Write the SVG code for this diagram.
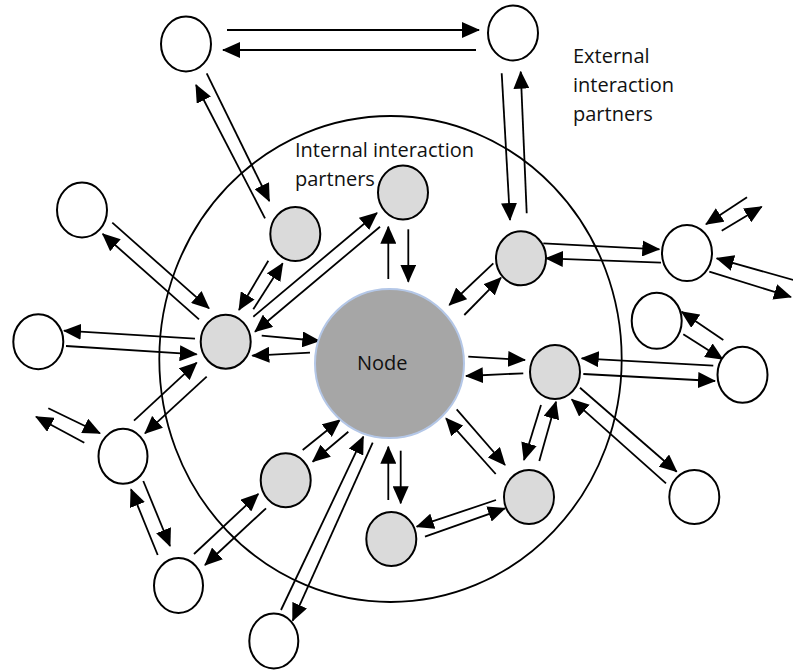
<svg xmlns="http://www.w3.org/2000/svg" width="793" height="670" viewBox="0 0 793 670">
  <style>
    .ring { fill: none; stroke: #000; stroke-width: 1.8; }
    .ext { fill: #fff; stroke: #000; stroke-width: 2; }
    .int { fill: #dadada; stroke: #000; stroke-width: 2; }
    .core { fill: #a6a6a6; stroke: #b4c7e7; stroke-width: 2; }
    .link { stroke: #000; stroke-width: 1.8; fill: none; }
    .label { font-family: "Open Sans", "Liberation Sans", sans-serif; font-size: 20px; fill: #111; }
  </style>
  <defs>
    <marker id="head" markerUnits="userSpaceOnUse" viewBox="0 0 18 16" markerWidth="18" markerHeight="16" refX="17" refY="8" orient="auto">
      <path d="M0,0 L18,8 L0,16 z" fill="#000"/>
    </marker>
  </defs>

  <rect width="793" height="670" fill="#fff"/>

  <!-- boundary of the internal neighbourhood -->
  <ellipse id="boundary" class="ring" cx="390.5" cy="359" rx="231.2" ry="243"/>

  <g id="connectors" marker-end="url(#head)">
    <line class="link" x1="227" y1="30" x2="479" y2="30"/>
    <line class="link" x1="476" y1="50" x2="223" y2="50"/>
    <line class="link" x1="206.7" y1="73.3" x2="269.3" y2="201"/>
    <line class="link" x1="265" y1="218.3" x2="196" y2="85"/>
    <line class="link" x1="112.3" y1="222.7" x2="209" y2="308.3"/>
    <line class="link" x1="199" y1="319.3" x2="102.7" y2="234"/>
    <line class="link" x1="195" y1="338.7" x2="64" y2="330.7"/>
    <line class="link" x1="66" y1="346" x2="196.7" y2="354.3"/>
    <line class="link" x1="268.3" y1="260.7" x2="239" y2="310"/>
    <line class="link" x1="253.3" y1="309.3" x2="282.7" y2="263.3"/>
    <line class="link" x1="261.7" y1="335.7" x2="319.3" y2="341"/>
    <line class="link" x1="310" y1="352.7" x2="252.3" y2="355.7"/>
    <line class="link" x1="253.3" y1="316.7" x2="377" y2="213"/>
    <line class="link" x1="380" y1="226.7" x2="255" y2="331.7"/>
    <line class="link" x1="388.3" y1="279" x2="388.3" y2="226.7"/>
    <line class="link" x1="408.3" y1="229.3" x2="408.3" y2="281.7"/>
    <line class="link" x1="501.7" y1="73.3" x2="510" y2="220"/>
    <line class="link" x1="526.7" y1="213.3" x2="520.7" y2="71.7"/>
    <line class="link" x1="493.3" y1="263.3" x2="449.3" y2="305"/>
    <line class="link" x1="464.3" y1="315" x2="501" y2="277.7"/>
    <line class="link" x1="543.3" y1="243.3" x2="659.3" y2="249.3"/>
    <line class="link" x1="661" y1="262.7" x2="546" y2="258.3"/>
    <line class="link" x1="747" y1="197.3" x2="706" y2="224.3"/>
    <line class="link" x1="721.7" y1="230.7" x2="761.7" y2="206.7"/>
    <line class="link" x1="795" y1="280.5" x2="716.7" y2="258.3"/>
    <line class="link" x1="709.3" y1="271.7" x2="791" y2="297"/>
    <line class="link" x1="723.3" y1="340" x2="681.7" y2="311.7"/>
    <line class="link" x1="683.3" y1="334.3" x2="722.7" y2="359.3"/>
    <line class="link" x1="713.3" y1="365.7" x2="581.7" y2="358.3"/>
    <line class="link" x1="583.3" y1="374" x2="715" y2="381"/>
    <line class="link" x1="468.3" y1="356.7" x2="525" y2="360"/>
    <line class="link" x1="523.3" y1="373.3" x2="466" y2="376"/>
    <line class="link" x1="541" y1="405" x2="524" y2="460"/>
    <line class="link" x1="539.3" y1="461" x2="556" y2="401.7"/>
    <line class="link" x1="580" y1="387.7" x2="676.7" y2="471.7"/>
    <line class="link" x1="666" y1="483.3" x2="571.7" y2="399.3"/>
    <line class="link" x1="456.7" y1="409.3" x2="505" y2="465"/>
    <line class="link" x1="495.7" y1="474" x2="446" y2="418.3"/>
    <line class="link" x1="496" y1="500" x2="416.7" y2="526.7"/>
    <line class="link" x1="425" y1="536.7" x2="505" y2="508.3"/>
    <line class="link" x1="388.3" y1="500" x2="388.3" y2="446.7"/>
    <line class="link" x1="400.7" y1="450.7" x2="400.7" y2="503.3"/>
    <line class="link" x1="281" y1="610" x2="363.3" y2="436.7"/>
    <line class="link" x1="372.7" y1="442.7" x2="292.7" y2="620.7"/>
    <line class="link" x1="302.7" y1="450" x2="340" y2="420"/>
    <line class="link" x1="348.3" y1="431.7" x2="312.7" y2="461.7"/>
    <line class="link" x1="194" y1="554" x2="258.3" y2="494"/>
    <line class="link" x1="266" y1="508.3" x2="205" y2="565"/>
    <line class="link" x1="143.3" y1="481" x2="170" y2="546"/>
    <line class="link" x1="157.7" y1="555" x2="131" y2="489.3"/>
    <line class="link" x1="48.3" y1="408.3" x2="100" y2="433.3"/>
    <line class="link" x1="84.3" y1="442.7" x2="36" y2="416.7"/>
    <line class="link" x1="134" y1="420.7" x2="196.7" y2="362.7"/>
    <line class="link" x1="206.7" y1="376.7" x2="145" y2="433.3"/>
  </g>

  <!-- central node -->
  <g id="node">
    <circle class="core" cx="389.5" cy="363.5" r="74.5"/>
    <text class="label" x="357" y="370">Node</text>
  </g>

  <!-- internal interaction partners -->
  <g id="int-1"><ellipse class="int" cx="225.7" cy="341.7" rx="25" ry="27"/></g>
  <g id="int-2"><ellipse class="int" cx="295.3" cy="234" rx="25" ry="27"/></g>
  <g id="int-3"><ellipse class="int" cx="403" cy="192.5" rx="25" ry="27"/></g>
  <g id="int-4"><ellipse class="int" cx="521" cy="258.3" rx="25" ry="27"/></g>
  <g id="int-5"><ellipse class="int" cx="555" cy="372" rx="25" ry="27"/></g>
  <g id="int-6"><ellipse class="int" cx="529" cy="497" rx="25" ry="27"/></g>
  <g id="int-7"><ellipse class="int" cx="391.3" cy="539" rx="25" ry="27"/></g>
  <g id="int-8"><ellipse class="int" cx="285.7" cy="480.3" rx="25" ry="27"/></g>

  <!-- external interaction partners -->
  <g id="ext-1"><ellipse class="ext" cx="186" cy="44" rx="25" ry="27.5"/></g>
  <g id="ext-2"><ellipse class="ext" cx="513" cy="33" rx="25" ry="27.5"/></g>
  <g id="ext-3"><ellipse class="ext" cx="82" cy="210" rx="25" ry="27.5"/></g>
  <g id="ext-4"><ellipse class="ext" cx="38.3" cy="341.7" rx="25" ry="27.5"/></g>
  <g id="ext-5"><ellipse class="ext" cx="123" cy="456.3" rx="24.5" ry="27.5"/></g>
  <g id="ext-6"><ellipse class="ext" cx="178.5" cy="585.5" rx="24.5" ry="27.5"/></g>
  <g id="ext-7"><ellipse class="ext" cx="273.8" cy="641" rx="24.5" ry="27.5"/></g>
  <g id="ext-8"><ellipse class="ext" cx="687" cy="253" rx="25" ry="28"/></g>
  <g id="ext-9"><ellipse class="ext" cx="656.7" cy="320.8" rx="25" ry="28"/></g>
  <g id="ext-10"><ellipse class="ext" cx="742.5" cy="374.7" rx="25" ry="28"/></g>
  <g id="ext-11"><ellipse class="ext" cx="694.3" cy="497" rx="25" ry="27"/></g>

  <g id="labels">
    <text class="label" x="295" y="157">Internal interaction</text>
    <text class="label" x="295" y="186">partners</text>
    <text class="label" x="573" y="63">External</text>
    <text class="label" x="573" y="92">interaction</text>
    <text class="label" x="573" y="121">partners</text>
  </g>
</svg>
